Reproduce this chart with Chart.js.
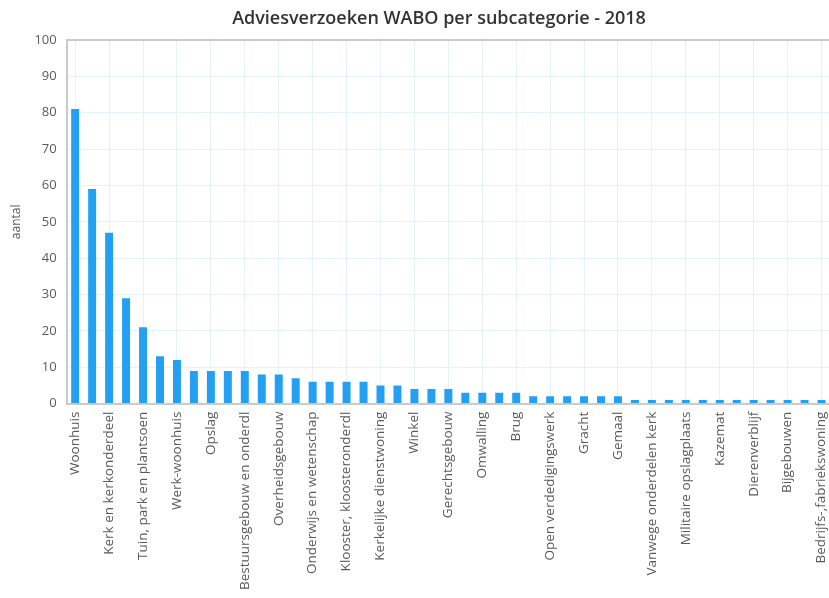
<!DOCTYPE html>
<html lang="nl">
<head>
    <meta charset="UTF-8">
    <title>Adviesverzoeken WABO per subcategorie - 2018</title>
    <script src="https://cdn.jsdelivr.net/npm/chart.js"></script>
    <style>
        html, body { margin: 0; padding: 0; background: #fff; overflow: hidden; }
        .wrap { position: relative; width: 878px; height: 598px; }
        #myChart { display: block; }
        .titel {
            position: absolute; left: 0; top: 4px; width: 878px;
            text-align: center; line-height: 26px;
            font-family: 'Open Sans', sans-serif; font-size: 18px; font-weight: 600;
            color: #333;
        }
    </style>
</head>
<body>
    <div class="wrap">
        <canvas id="myChart" width="878" height="598"></canvas>
        <div class="titel">Adviesverzoeken WABO per subcategorie - 2018</div>
    </div>

    <script>
        // categorieen (alleen elke tweede staat als label op de as)
        const categories = [
            'Woonhuis', '', 'Kerk en kerkonderdeel', '', 'Tuin, park en plantsoen', '',
            'Werk-woonhuis', '', 'Opslag', '', 'Bestuursgebouw en onderdl', '',
            'Overheidsgebouw', '', 'Onderwijs en wetenschap', '', 'Klooster, kloosteronderdl', '',
            'Kerkelijke dienstwoning', '', 'Winkel', '', 'Gerechtsgebouw', '',
            'Omwalling', '', 'Brug', '', 'Open verdedigingswerk', '',
            'Gracht', '', 'Gemaal', '', 'Vanwege onderdelen kerk', '',
            'Militaire opslagplaats', '', 'Kazemat', '', 'Dierenverblijf', '',
            'Bijgebouwen', '', 'Bedrijfs-,fabriekswoning'
        ];
        const aantal = [
            81, 59, 47, 29, 21, 13, 12, 9, 9, 9, 9, 8, 8, 7, 6, 6, 6, 6, 5, 5,
            4, 4, 4, 3, 3, 3, 3, 2, 2, 2, 2, 2, 2, 1, 1, 1, 1, 1, 1, 1,
            1, 1, 1, 1, 1
        ];
        const yTicks = { min: 0, max: 100, step: 10 };

        const gridBlue = '#e4f2fb';
        const borderGrey = '#cacaca';
        const textGrey = '#5a5a5a';

        const ctx = document.getElementById('myChart').getContext('2d');
        const chart = new Chart(ctx, {
            type: 'bar',
            data: {
                labels: categories,
                datasets: [{
                    label: 'aantal',
                    data: aantal,
                    backgroundColor: '#23a0f2',
                    borderWidth: 0,
                    barPercentage: 0.47,
                    categoryPercentage: 1.0,
                }]
            },
            options: {
                responsive: false,
                animation: false,
                layout: { padding: { left: 9, right: 48, top: 40, bottom: 0 } },
                plugins: {
                    legend: { display: false },
                    tooltip: { enabled: false },
                    title: { display: false }
                },
                scales: {
                    x: {
                        offset: true,
                        grid: {
                            offset: false,
                            drawTicks: false,
                            color: (c) => (c.index % 2 === 0 ? gridBlue : 'rgba(0,0,0,0)'),
                        },
                        border: { color: borderGrey, width: 2 },
                        ticks: {
                            autoSkip: false,
                            maxRotation: 90,
                            minRotation: 90,
                            padding: 8,
                            color: textGrey,
                            font: { family: 'Open Sans', size: 13.5 }
                        }
                    },
                    y: {
                        min: yTicks.min,
                        max: yTicks.max,
                        grid: {
                            drawTicks: false,
                            color: (c) => (c.tick && c.tick.value === yTicks.max ? borderGrey : gridBlue),
                            lineWidth: (c) => (c.tick && c.tick.value === yTicks.max ? 2 : 1),
                        },
                        border: { color: borderGrey, width: 2 },
                        ticks: {
                            stepSize: yTicks.step,
                            padding: 10,
                            color: textGrey,
                            font: { family: 'Open Sans', size: 13 }
                        },
                        title: {
                            display: true,
                            text: 'aantal',
                            color: textGrey,
                            font: { family: 'Open Sans', size: 12 },
                            padding: { top: 0, bottom: 1 }
                        }
                    }
                }
            }
        });
    </script>
</body>
</html>
